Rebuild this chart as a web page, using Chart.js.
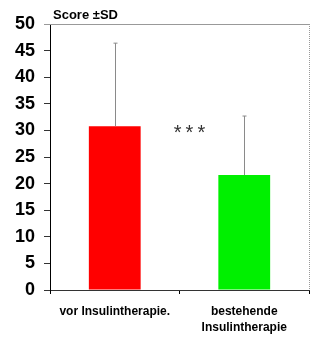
<!DOCTYPE html>
<html>
<head>
<meta charset="utf-8">
<script src="https://cdn.jsdelivr.net/npm/chart.js@4"></script>
<style>
  html, body { margin: 0; padding: 0; background: #fff; }
  #wrap { width: 317px; height: 338px; }
</style>
</head>
<body>
<div id="wrap"><canvas id="c" width="317" height="338"></canvas></div>
<script>
// chart data
const categories = [['vor Insulintherapie.'], ['bestehende', 'Insulintherapie']];
const scores = [30.8, 21.6];
const sdValues = [15.6, 11.1];
const barColors = ['#ff0000', '#00f000'];
const yTickValues = [0, 5, 10, 15, 20, 25, 30, 35, 40, 45, 50];
const axisTitle = 'Score \u00b1SD';
const signifText = '***';
const signifValue = 29.5;

// draws the upward SD whiskers, the frame and the annotations
const extras = {
    id: 'extras',
    afterDatasetsDraw(chart) {
        const ctx = chart.ctx;
        const y = chart.scales.y;
        const area = chart.chartArea;
        const meta = chart.getDatasetMeta(0);

        ctx.save();
        ctx.strokeStyle = '#8a8a8a';
        ctx.lineWidth = 1;
        meta.data.forEach((bar, i) => {
            const x = Math.round(bar.x) + 0.5;
            const yTop = y.getPixelForValue(scores[i] + sdValues[i]);
            ctx.beginPath();
            ctx.moveTo(x, bar.y);
            ctx.lineTo(x, yTop);
            ctx.moveTo(x - 2, yTop);
            ctx.lineTo(x + 2, yTop);
            ctx.stroke();
        });

        // gray frame on top and right
        ctx.strokeStyle = '#999';
        ctx.beginPath();
        ctx.moveTo(area.left - 6, area.top + 0.5);
        ctx.lineTo(area.right, area.top + 0.5);
        ctx.stroke();
        ctx.setLineDash([1, 1]);
        ctx.beginPath();
        ctx.moveTo(area.right + 0.5, area.top);
        ctx.lineTo(area.right + 0.5, area.bottom);
        ctx.stroke();
        ctx.setLineDash([]);

        ctx.fillStyle = '#000';
        ctx.font = 'bold 13px "Liberation Sans", Arial, sans-serif';
        ctx.textAlign = 'left';
        ctx.textBaseline = 'bottom';
        ctx.fillText(axisTitle, area.left + 3, area.top - 2);

        const midX = (meta.data[0].x + meta.data[1].x) / 2;
        ctx.font = '20px "Liberation Sans", Arial, sans-serif';
        ctx.letterSpacing = '4px';
        ctx.fillStyle = '#333';
        ctx.textAlign = 'center';
        ctx.textBaseline = 'middle';
        ctx.fillText(signifText, midX + 12, y.getPixelForValue(signifValue));
        ctx.restore();
    }
};

new Chart(document.getElementById('c'), {
    type: 'bar',
    data: {
        labels: categories,
        datasets: [{
            data: scores,
            backgroundColor: barColors,
            borderWidth: 0,
            barPercentage: 0.4,
            categoryPercentage: 1
        }]
    },
    options: {
        responsive: false,
        animation: false,
        layout: { padding: { top: 24, right: 8, left: 0, bottom: 0 } },
        plugins: {
            legend: { display: false },
            tooltip: { enabled: false }
        },
        scales: {
            x: {
                afterFit(axis) { axis.height = 48; },
                grid: {
                    offset: true,
                    drawOnChartArea: false,
                    color: '#000',
                    tickLength: 4
                },
                border: { color: '#333', width: 1 },
                ticks: {
                    color: '#000',
                    padding: 10,
                    maxRotation: 0,
                    font: { family: '"Liberation Sans", Arial, sans-serif', size: 12, weight: 'bold', lineHeight: 1.33 }
                }
            },
            y: {
                min: 0,
                max: 50,
                afterBuildTicks(axis) {
                    axis.ticks = yTickValues.map(v => ({ value: v }));
                },
                afterFit(axis) { axis.width = 50; },
                grid: {
                    drawOnChartArea: false,
                    color: '#333',
                    tickLength: 6
                },
                border: { color: '#000', width: 1 },
                ticks: {
                    color: '#000',
                    padding: 9,
                    font: { family: '"Liberation Sans", Arial, sans-serif', size: 18, weight: 'bold' }
                }
            }
        }
    },
    plugins: [extras]
});
</script>
</body>
</html>
